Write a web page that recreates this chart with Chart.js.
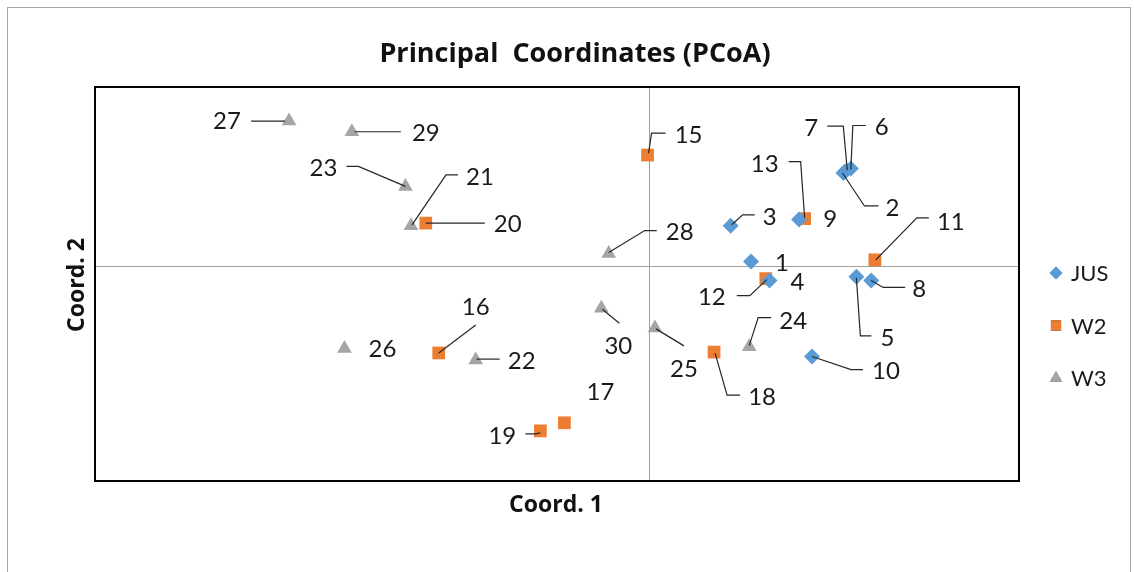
<!DOCTYPE html>
<html>
<head>
<meta charset="utf-8">
<script src="https://cdn.jsdelivr.net/npm/chart.js@4/dist/chart.umd.min.js"></script>
<style>
  html, body { margin: 0; padding: 0; background: #fff; }
  #wrap { width: 1134px; height: 572px; }
</style>
</head>
<body>
<div id="wrap"><canvas id="pcoa" width="1134" height="572"></canvas></div>
<script>
// PCoA scores (Coord. 1, Coord. 2)
const jusLabels = ['1', '2', '3', '4', '5', '6', '7', '8', '9', '10'];
const jusX = [0.055, 0.105, 0.044, 0.065, 0.112, 0.109, 0.106, 0.120, 0.081, 0.088];
const jusY = [0.005, 0.104, 0.045, -0.016, -0.012, 0.109, 0.106, -0.016, 0.052, -0.101];

const w2Labels = ['11', '12', '13', '15', '16', '17', '18', '19', '20'];
const w2X = [0.122, 0.063, 0.084, -0.001, -0.114, -0.046, 0.035, -0.059, -0.121];
const w2Y = [0.007, -0.014, 0.053, 0.124, -0.097, -0.175, -0.096, -0.184, 0.048];

const w3Labels = ['21', '22', '23', '24', '25', '26', '27', '28', '29', '30'];
const w3X = [-0.129, -0.094, -0.132, 0.054, 0.003, -0.165, -0.195, -0.022, -0.161, -0.026];
const w3Y = [0.045, -0.105, 0.089, -0.090, -0.069, -0.092, 0.162, 0.014, 0.150, -0.047];

// where each data label sits relative to its marker (t) and its leader line path (l)
const labelPlacement = {
    '1': { t: [31, 2] },
    '2': { t: [49, 35], l: [[-1, 0], [21, 33], [35, 33]] },
    '3': { t: [39, -9], l: [[1, -1], [12, -11], [24, -11]] },
    '4': { t: [28, 2] },
    '5': { t: [31, 61], l: [[0, 1], [4, 59], [15, 59]] },
    '6': { t: [31, -41], l: [[0, 1], [2, -43], [15, -43]] },
    '7': { t: [-34, -43], l: [[2, -1], [-2, -45], [-18, -45]] },
    '8': { t: [48, 9], l: [[0, 0], [12, 7], [34, 7]] },
    '9': { t: [31, 0] },
    '10': { t: [74, 15], l: [[0, 0], [39, 13], [51, 13]] },
    '11': { t: [76, -38], l: [[1, 0], [42, -42], [54, -42]] },
    '12': { t: [-54, 19], l: [[1, 1], [-16, 17], [-29, 17]] },
    '13': { t: [-40, -54], l: [[0, -1], [-4, -57], [-16, -57]] },
    '15': { t: [41, -20], l: [[1, -2], [4, -22], [18, -22]] },
    '16': { t: [37, -46], l: [[0, 0], [37, -28]] },
    '17': { t: [36, -31] },
    '18': { t: [48, 45], l: [[1, 1], [13, 43], [26, 43]] },
    '19': { t: [-38, 5], l: [[0, 2], [-5, 3], [-15, 3]] },
    '20': { t: [82, 1], l: [[0, 0], [59, 0]] },
    '21': { t: [69, -49], l: [[1, -1], [35, -51], [47, -51]] },
    '22': { t: [46, 1], l: [[1, -1], [24, -1]] },
    '23': { t: [-82, -18], l: [[0, 0], [-47, -20], [-59, -20]] },
    '24': { t: [44, -25], l: [[0, -1], [9, -29], [22, -29]] },
    '25': { t: [29, 41], l: [[1, 1], [29, 18]] },
    '26': { t: [38, 1] },
    '27': { t: [-62, 0], l: [[-4, 0], [-38, 0]] },
    '28': { t: [71, -21], l: [[0, -1], [36, -23], [48, -23]] },
    '29': { t: [74, 1], l: [[3, 0], [49, 0]] },
    '30': { t: [17, 38], l: [[1, 1], [18, 15]] }
};

function toPoints(xs, ys, labels) {
    return xs.map((x, i) => ({ x: x, y: ys[i], label: labels[i] }));
}

// frame, zero lines, axis titles, chart title
const decorPlugin = {
    id: 'decor',
    beforeDraw(chart) {
        const ctx = chart.ctx;
        const area = chart.chartArea;
        const xs = chart.scales.x;
        const ys = chart.scales.y;
        ctx.save();
        // outer chart border
        ctx.strokeStyle = '#a6a6a6';
        ctx.lineWidth = 1;
        ctx.strokeRect(7.5, 7.5, 1123, 600);
        // zero lines
        ctx.strokeStyle = '#a0a0a0';
        const x0 = Math.round(xs.getPixelForValue(0)) + 0.5;
        const y0 = Math.round(ys.getPixelForValue(0)) + 0.5;
        ctx.beginPath();
        ctx.moveTo(x0, area.top);
        ctx.lineTo(x0, area.bottom);
        ctx.moveTo(area.left, y0);
        ctx.lineTo(area.right, y0);
        ctx.stroke();
        // titles
        ctx.fillStyle = '#111';
        ctx.textAlign = 'center';
        ctx.textBaseline = 'middle';
        ctx.font = 'bold 27px "Open Sans"';
        ctx.fillText('Principal  Coordinates (PCoA)', 575, 54);
        ctx.font = 'bold 23px "Open Sans"';
        ctx.fillText('Coord. 1', 556, 505);
        ctx.translate(77, 285);
        ctx.rotate(-Math.PI / 2);
        ctx.fillText('Coord. 2', 0, 0);
        ctx.restore();
    },
    afterDraw(chart) {
        const ctx = chart.ctx;
        const area = chart.chartArea;
        ctx.save();
        // plot area frame
        ctx.strokeStyle = '#000';
        ctx.lineWidth = 2;
        ctx.strokeRect(area.left, area.top, area.right - area.left, area.bottom - area.top);
        ctx.restore();
    }
};

// data labels with leader lines
const labelPlugin = {
    id: 'pointLabels',
    afterDatasetsDraw(chart) {
        const ctx = chart.ctx;
        ctx.save();
        ctx.font = '24px Lato';
        ctx.textAlign = 'center';
        ctx.textBaseline = 'middle';
        chart.data.datasets.forEach((ds, di) => {
            const meta = chart.getDatasetMeta(di);
            meta.data.forEach((el, i) => {
                const lab = ds.data[i].label;
                const place = labelPlacement[lab];
                if (!place) return;
                if (place.l) {
                    ctx.strokeStyle = '#262626';
                    ctx.lineWidth = 1.2;
                    ctx.beginPath();
                    place.l.forEach((p, k) => {
                        if (k === 0) ctx.moveTo(el.x + p[0], el.y + p[1]);
                        else ctx.lineTo(el.x + p[0], el.y + p[1]);
                    });
                    ctx.stroke();
                }
                ctx.fillStyle = '#1a1a1a';
                ctx.fillText(lab, el.x + place.t[0], el.y + place.t[1]);
            });
        });
        ctx.restore();
    }
};

// legend drawn on the right, Excel style
const legendPlugin = {
    id: 'sideLegend',
    afterDraw(chart) {
        const ctx = chart.ctx;
        ctx.save();
        ctx.font = '22px Lato';
        ctx.textAlign = 'left';
        ctx.textBaseline = 'middle';
        chart.data.datasets.forEach((ds, di) => {
            const y = 273 + di * 52.5;
            Chart.helpers.drawPoint(ctx, {
                pointStyle: ds.pointStyle,
                radius: ds.pointRadius * 0.8,
                borderWidth: 0,
                rotation: 0
            }, 1056, y);
            ctx.fillStyle = ds.backgroundColor;
            ctx.fill();
            ctx.fillStyle = '#1a1a1a';
            ctx.fillText(ds.label, 1071, y + 1);
        });
        ctx.restore();
    }
};

new Chart(document.getElementById('pcoa').getContext('2d'), {
    type: 'scatter',
    data: {
        datasets: [
            {
                label: 'JUS',
                data: toPoints(jusX, jusY, jusLabels),
                pointStyle: 'rectRot',
                pointRadius: 8,
                backgroundColor: '#5b9bd5',
                borderWidth: 0
            },
            {
                label: 'W2',
                data: toPoints(w2X, w2Y, w2Labels),
                pointStyle: 'rect',
                pointRadius: 9,
                backgroundColor: '#ed7d31',
                borderWidth: 0
            },
            {
                label: 'W3',
                data: toPoints(w3X, w3Y, w3Labels),
                pointStyle: 'triangle',
                pointRadius: 8.5,
                backgroundColor: '#a5a5a5',
                borderWidth: 0
            }
        ]
    },
    options: {
        responsive: false,
        animation: false,
        clip: false,
        layout: {
            padding: { left: 95, top: 87, right: 115, bottom: 91 }
        },
        plugins: {
            legend: { display: false },
            tooltip: { enabled: false },
            title: { display: false }
        },
        scales: {
            x: { type: 'linear', min: -0.3, max: 0.2, display: false },
            y: { type: 'linear', min: -0.24, max: 0.2, display: false }
        }
    },
    plugins: [decorPlugin, labelPlugin, legendPlugin]
});
</script>
</body>
</html>
